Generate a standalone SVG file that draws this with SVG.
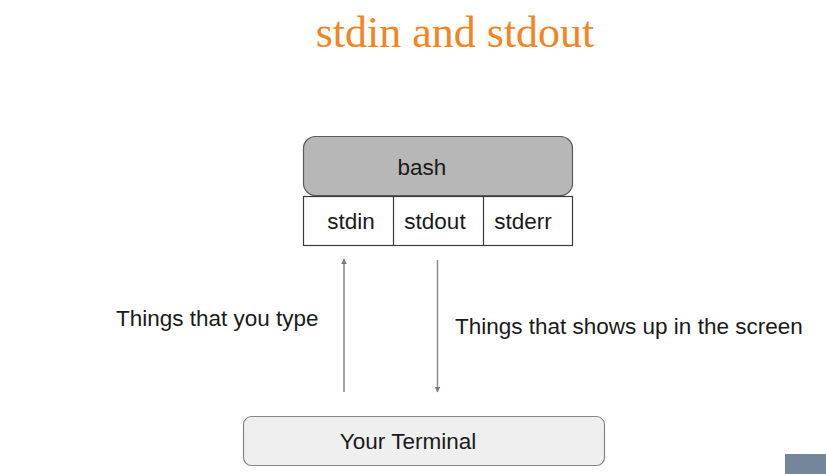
<svg xmlns="http://www.w3.org/2000/svg" width="826" height="474" viewBox="0 0 826 474">
<style>
.t{font-family:"Liberation Sans",Arial,sans-serif;font-size:22.5px;fill:#1a1a1a}
.c{text-anchor:middle}
.ln{stroke:#8a8a8a;stroke-width:1.5;fill:none}
</style>
<defs>
<marker id="ah" viewBox="0 0 10 10" refX="9" refY="5" markerWidth="4" markerHeight="4" orient="auto" markerUnits="strokeWidth">
<path d="M0,0 L10,5 L0,10 z" fill="#7a7a7a"/>
</marker>
</defs>
<rect width="826" height="474" fill="#ffffff"/>
<text x="455" y="47" text-anchor="middle" font-family="'Liberation Serif','Times New Roman',serif" font-size="44" fill="#f5841f">stdin and stdout</text>
<g id="bash">
<rect x="303.5" y="136.5" width="269" height="59" rx="12" fill="#b7b7b7" stroke="#5a5a5a" stroke-width="1.2"/>
<text class="t c" x="422" y="175">bash</text>
</g>
<g id="streams">
<rect x="303.5" y="196.5" width="269" height="49" fill="#ffffff" stroke="#3a3a3a" stroke-width="1.2"/>
<line x1="393.5" y1="196.5" x2="393.5" y2="245.5" stroke="#3a3a3a" stroke-width="1.2"/>
<line x1="483.5" y1="196.5" x2="483.5" y2="245.5" stroke="#3a3a3a" stroke-width="1.2"/>
<text class="t c" x="351" y="229">stdin</text>
<text class="t c" x="435" y="229">stdout</text>
<text class="t c" x="523" y="229">stderr</text>
</g>
<g id="terminal">
<rect x="243.5" y="416.5" width="361" height="49" rx="8" fill="#efefef" stroke="#858585" stroke-width="1.2"/>
<text class="t c" x="408" y="449">Your Terminal</text>
</g>
<g id="connectors">
<line class="ln" x1="344" y1="392" x2="344" y2="259" marker-end="url(#ah)"/>
<line class="ln" x1="437.5" y1="260" x2="437.5" y2="392" marker-end="url(#ah)"/>
</g>
<text class="t" x="116" y="326">Things that you type</text>
<text class="t" x="455" y="334">Things that shows up in the screen</text>
<rect x="785" y="454" width="41" height="20" fill="#74849a"/>
</svg>
